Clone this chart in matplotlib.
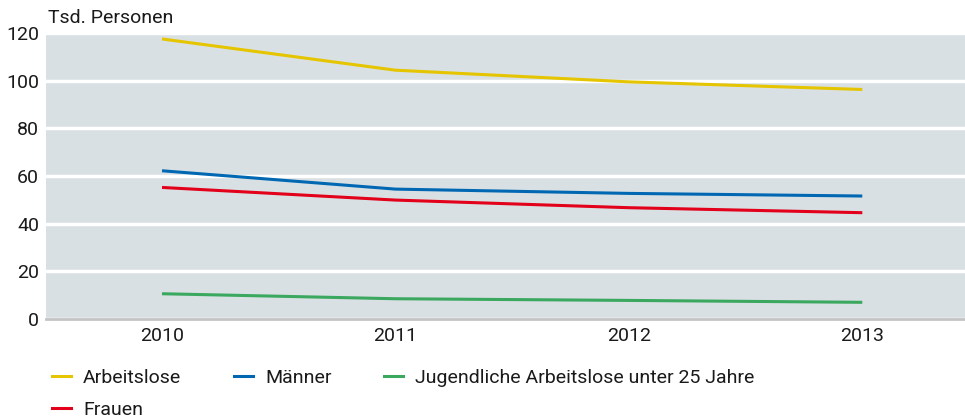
import matplotlib.pyplot as plt
from matplotlib.lines import Line2D

# Arbeitslose in Tsd. Personen
years = ["2010", "2011", "2012", "2013"]
arbeitslose = [117.5, 104.4, 99.5, 96.3]
maenner = [62.2, 54.5, 52.7, 51.6]
frauen = [55.2, 49.9, 46.7, 44.6]
jugendliche = [10.6, 8.5, 7.8, 7.0]

c_yellow = "#e5c500"
c_blue = "#0068b3"
c_red = "#e2001a"
c_green = "#3aa85e"
bg = "#d9e0e3"
txt = "#1a1a1a"

plt.rcParams['font.family'] = ['Roboto', 'DejaVu Sans']
fs = 14

fig = plt.figure(figsize=(9.65, 4.19), dpi=100)
ax = fig.add_axes([46 / 965, 1 - 319 / 419, (965 - 46) / 965, (319 - 33) / 419])
ax.set_facecolor(bg)

x = range(len(years))
ax.plot(x, arbeitslose, color=c_yellow, lw=2.2, solid_capstyle='butt')
ax.plot(x, maenner, color=c_blue, lw=2.2, solid_capstyle='butt')
ax.plot(x, frauen, color=c_red, lw=2.2, solid_capstyle='butt')
ax.plot(x, jugendliche, color=c_green, lw=2.2, solid_capstyle='butt')

ax.set_xlim(-0.497, 3.44)
ax.set_ylim(0, 120)
ax.set_yticks(range(0, 121, 20))
ax.set_xticks(list(x))
ax.set_xticklabels(years)
ax.yaxis.grid(True, color="white", lw=2.5)
ax.set_axisbelow(True)
for s in ["top", "right", "left"]:
    ax.spines[s].set_visible(False)
ax.spines["bottom"].set_color("#c4c4c4")
ax.spines["bottom"].set_linewidth(2)
ax.tick_params(length=0, labelsize=fs, colors=txt)
ax.tick_params(axis="y", pad=5)
ax.tick_params(axis="x", pad=6)

fig.text(48 / 965, 1 - 18 / 419, "Tsd. Personen", fontsize=fs, color=txt,
         va="center", ha="left")

handles = [Line2D([], [], color=c, lw=2.2) for c in (c_yellow, c_red, c_blue, c_green)]
labels = ["Arbeitslose", "Frauen", "Männer", "Jugendliche Arbeitslose unter 25 Jahre"]
leg = fig.legend(handles, labels, ncol=3, loc="upper left", bbox_to_anchor=(52 / 965, 1 - 369 / 419),
                 frameon=False, fontsize=fs, handlelength=1.0, handletextpad=0.6,
                 columnspacing=2.7, labelspacing=0.7, borderpad=0, borderaxespad=0)
for t in leg.get_texts():
    t.set_color(txt)

fig.savefig("out.png", dpi=100)
